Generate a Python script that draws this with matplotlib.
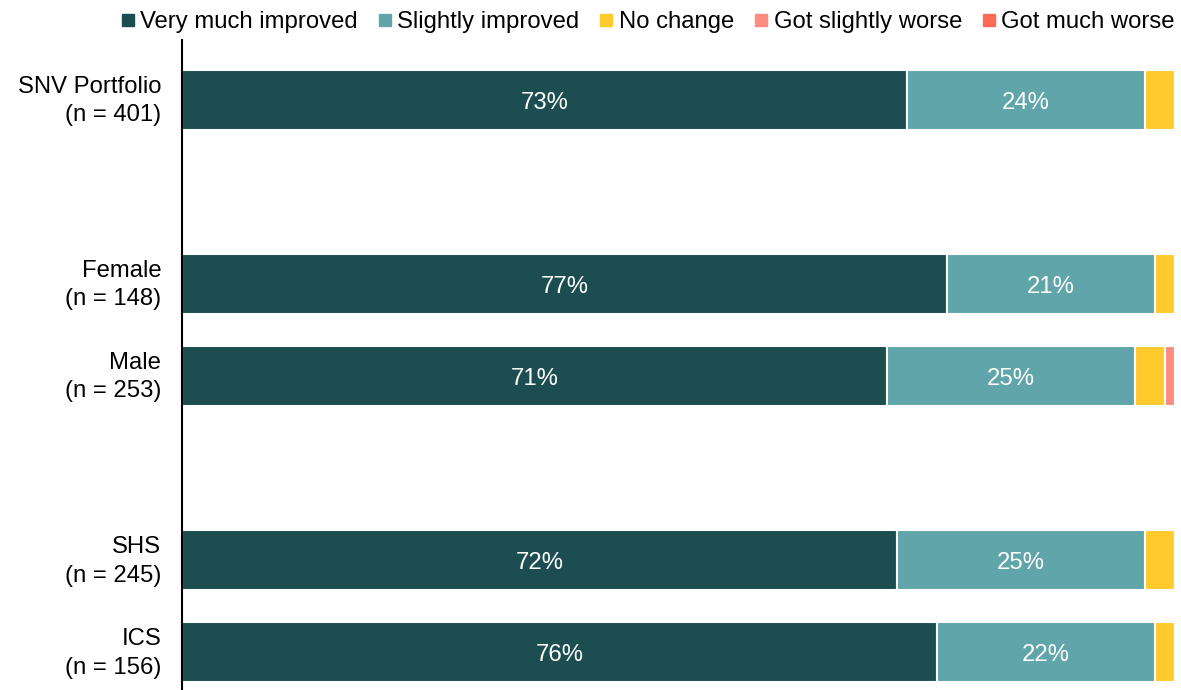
import matplotlib
matplotlib.use("Agg")
import matplotlib.pyplot as plt
import matplotlib.transforms as mtransforms
from matplotlib.lines import Line2D
import numpy as np

plt.rcParams['font.family'] = ['Liberation Sans', 'DejaVu Sans']

groups = ["SNV Portfolio\n(n = 401)", "Female\n(n = 148)", "Male\n(n = 253)",
          "SHS\n(n = 245)", "ICS\n(n = 156)"]
positions = [0, 2, 3, 5, 6]

categories = ["Very much improved", "Slightly improved", "No change",
              "Got slightly worse", "Got much worse"]
very_much_improved = [73, 77, 71, 72, 76]
slightly_improved = [24, 21, 25, 25, 22]
no_change = [3, 2, 3, 3, 2]
got_slightly_worse = [0, 0, 1, 0, 0]
got_much_worse = [0, 0, 0, 0, 0]

series = [very_much_improved, slightly_improved, no_change,
          got_slightly_worse, got_much_worse]
colors = ["#1c4d50", "#5fa5a9", "#ffca2c", "#ff8a80", "#ff6a55"]

FS = 17.2

fig = plt.figure(figsize=(11.81, 6.90), dpi=100)
ax = fig.add_axes([182 / 1181, 0.0, (1175 - 182) / 1181, 1 - 40 / 690])

left = np.zeros(len(groups))
for vals, col, name in zip(series, colors, categories):
    vals = np.array(vals, dtype=float)
    ax.barh(positions, vals, left=left, height=0.65, color=col,
            edgecolor="white", linewidth=1.5, label=name)
    if name in ("Very much improved", "Slightly improved"):
        for y, l, v in zip(positions, left, vals):
            if v >= 10:
                ax.text(l + v / 2, y + 0.03, f"{int(v)}%", ha="center", va="center",
                        color="white", fontsize=FS)
    left += vals

ax.set_xlim(0, 100)
ax.set_ylim(6.41, -0.652)
ax.set_yticks(positions)
ax.set_yticklabels(groups, fontsize=FS, linespacing=1.4, ha="right")
ax.tick_params(axis="y", length=0, pad=15)
shift = mtransforms.ScaledTranslation(0, 5 / 100, fig.dpi_scale_trans)
for lbl in ax.get_yticklabels():
    lbl.set_transform(lbl.get_transform() + shift)
ax.set_xticks([])
for s in ("top", "right", "bottom"):
    ax.spines[s].set_visible(False)
ax.spines["left"].set_linewidth(1.5)
ax.spines["left"].set_color("black")

handles = [Line2D([0], [0], marker="s", linestyle="none", markersize=9,
                  markerfacecolor=c, markeredgecolor=c) for c in colors]
fig.legend(handles, categories, loc="upper right", bbox_to_anchor=(1.003, 0.998),
           ncol=5, frameon=False, fontsize=FS, handlelength=0.55,
           handletextpad=0.25, columnspacing=0.85, borderaxespad=0.0)

fig.savefig("out.png", dpi=100)
